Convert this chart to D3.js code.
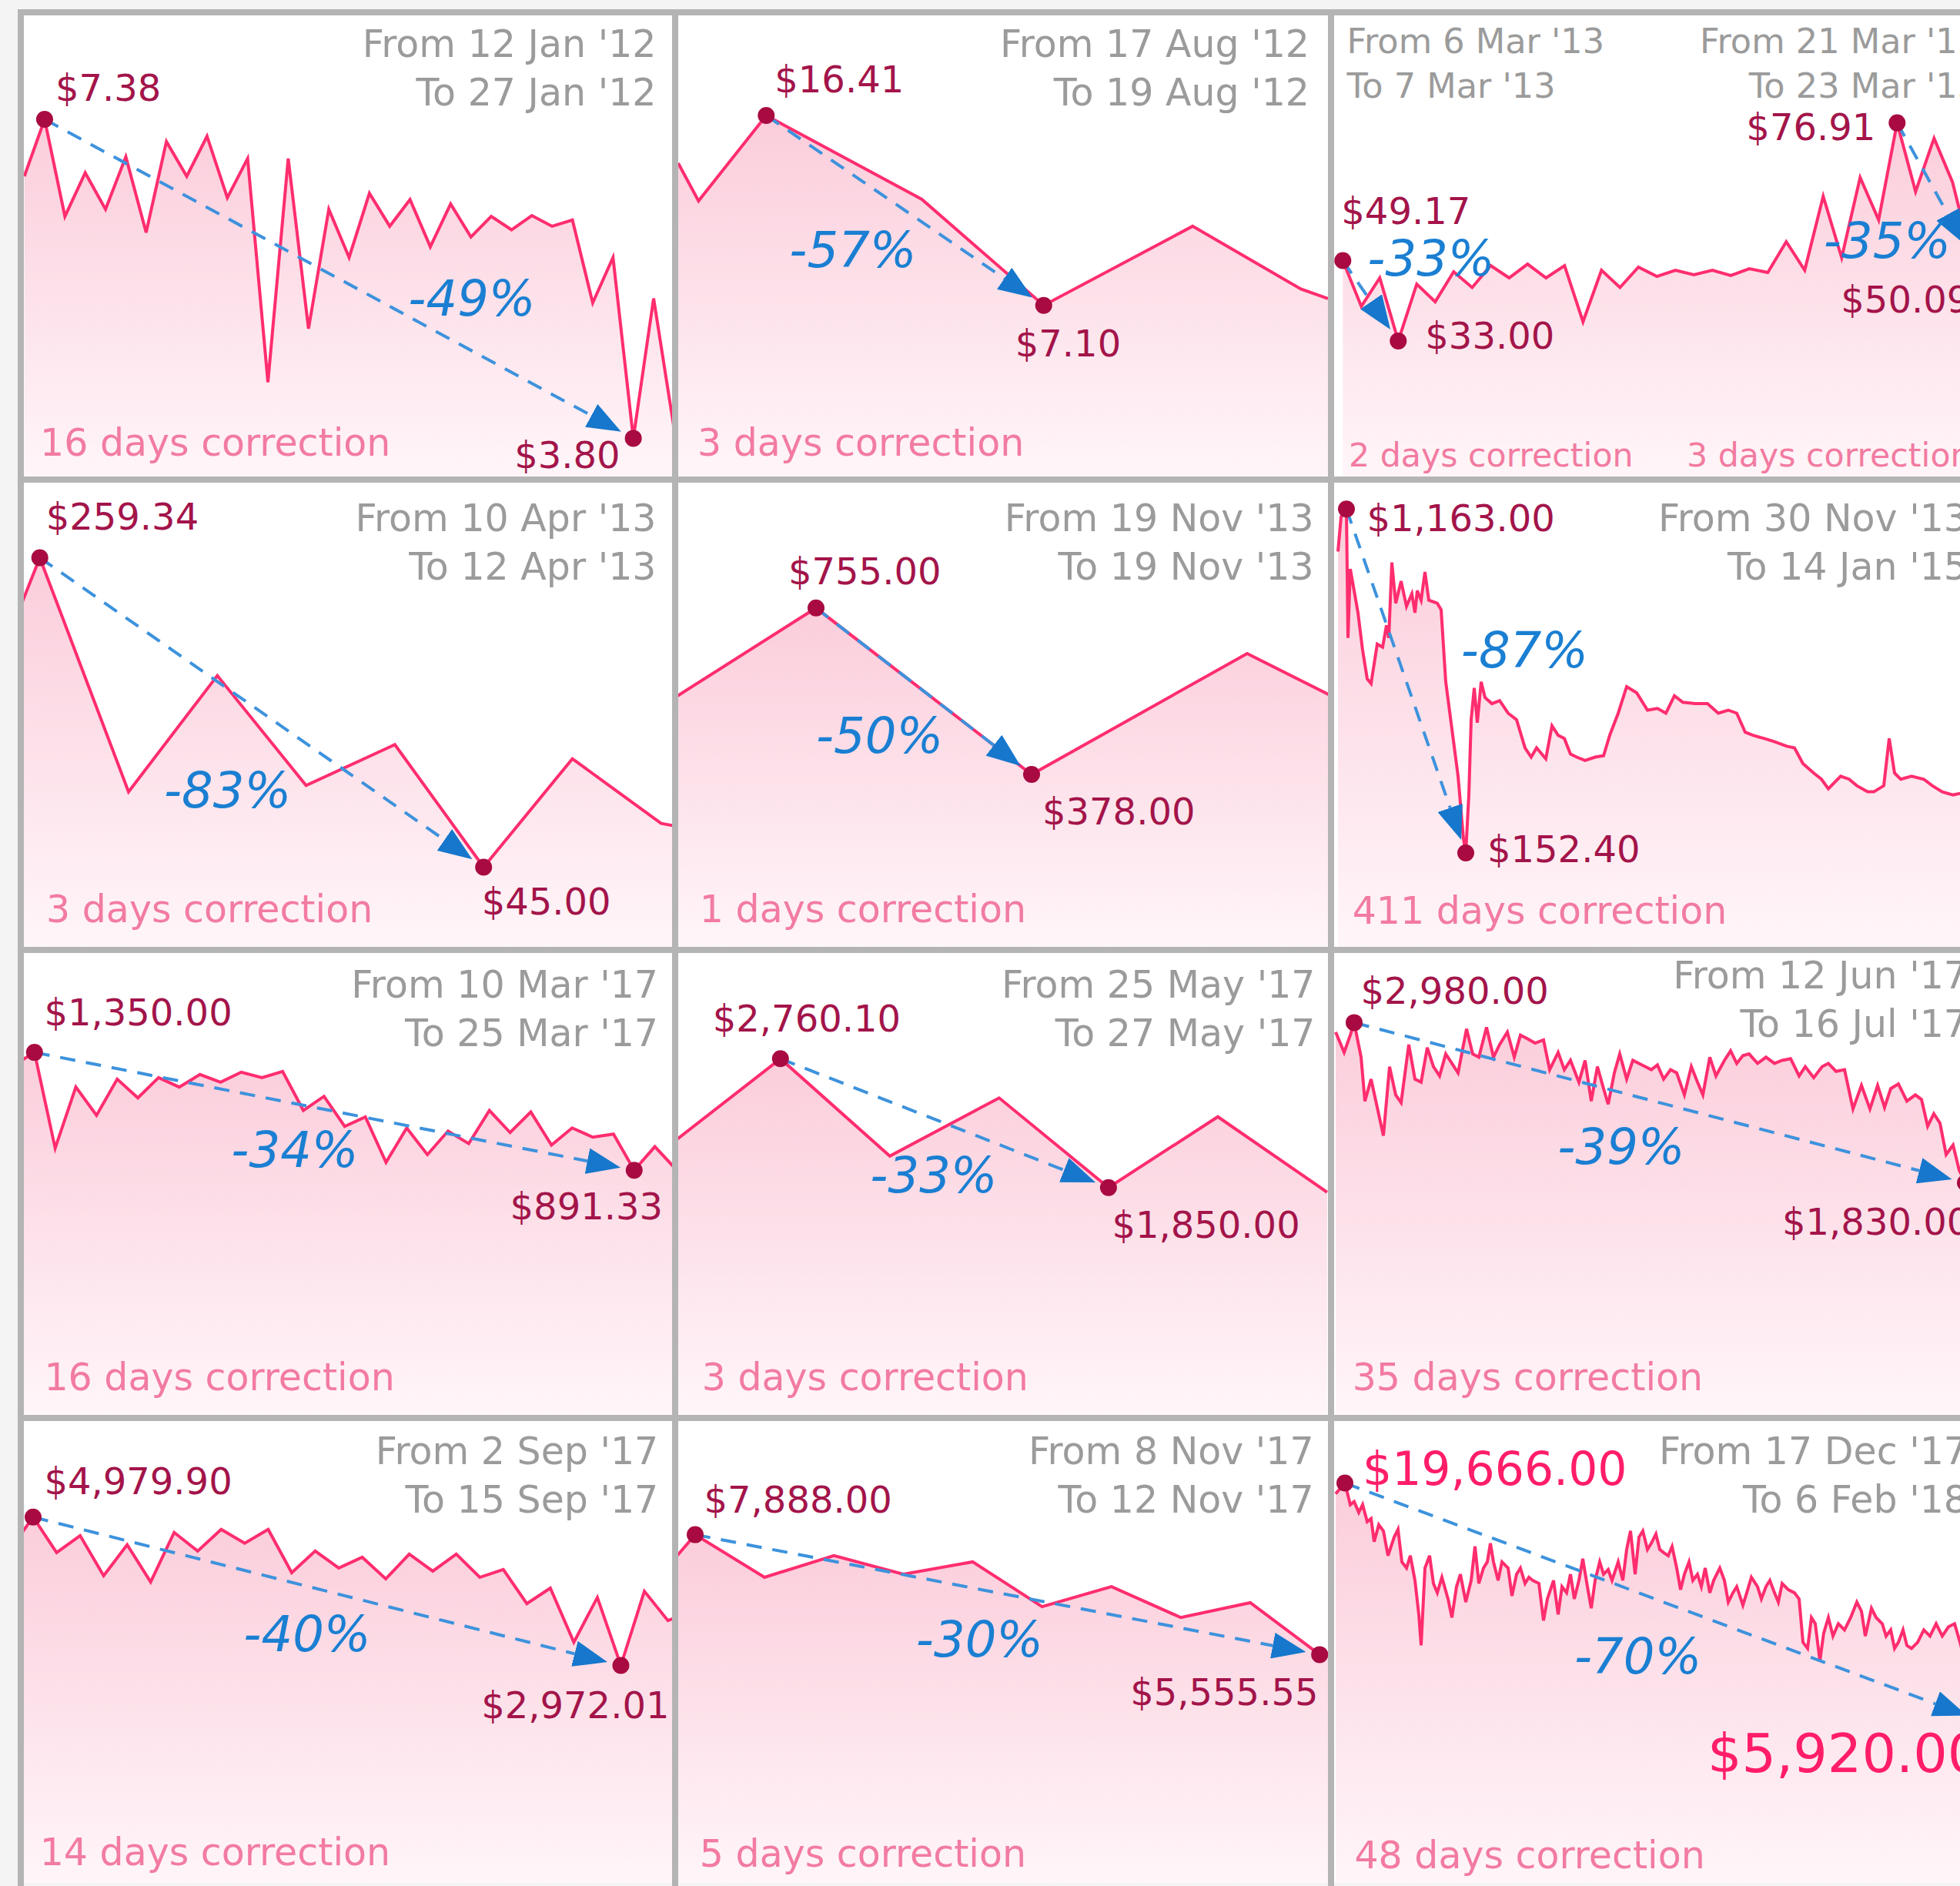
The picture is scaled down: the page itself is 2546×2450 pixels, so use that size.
<!DOCTYPE html>
<html>
<head>
<meta charset="utf-8">
<script src="https://cdn.jsdelivr.net/npm/d3@7"></script>
<style>
  body { margin: 0; background: #f4f4f4; }
  text { font-family: "DejaVu Sans", sans-serif; }
</style>
</head>
<body>
<div id="chart"></div>
<script>
// ---------------- data ----------------

// one series per panel, prices in USD
const jan12Prices = [6.74, 7.38, 6.29, 6.78, 6.37, 6.96, 6.11, 7.13, 6.74, 7.19, 6.50, 6.94, 4.43, 6.94, 5.03, 6.37,
    5.83, 6.55, 6.18, 6.48, 5.95, 6.43, 6.06, 6.29, 6.14, 6.30, 6.18, 6.25, 5.32, 5.83, 3.80, 5.37, 3.92];

const aug12Hours = [0, 3, 13, 36, 54, 76, 92, 96];
const aug12Prices = [14.07, 12.22, 16.41, 12.30, 7.10, 10.98, 7.90, 7.43];

const mar13Prices = [49.17, 39.96, 45.69, 33.00, 44.45, 40.89, 46.93, 43.76, 48.17, 45.69, 48.48, 45.69, 48.17, 36.86,
    47.24, 43.76, 47.86, 46.00, 47.24, 46.31, 47.24, 46.16, 47.55, 46.78, 52.98, 47.24, 62.12, 49.77, 65.91, 57.37,
    76.91, 63.05, 73.81, 64.96, 50.09, 58.0];

const apr13Prices = [103.9, 259.34, 97.2, 177.7, 101.6, 129.9, 45.00, 120.1, 75.3, 64.5];

const nov13Prices = [445, 755, 378, 651.8, 406.4];

const nov13to15Days = [5, 9, 16, 18, 21, 31, 37, 43, 48, 56, 63, 68, 71, 75, 80, 87, 94, 101, 105, 108, 113, 118, 123,
    134, 139, 145, 161, 168, 171, 175, 178, 182, 186, 191, 196, 205, 215, 226, 237, 248, 256, 263, 275, 283, 291, 299,
    307, 315, 326, 339, 350, 358, 369, 380, 393, 407, 420, 431, 442, 453, 469, 485, 499, 512, 523, 534, 544, 558, 571,
    588, 598, 609, 623, 633, 642, 658, 669, 679, 693, 701, 714, 721, 728, 736, 750, 766, 777, 790, 804, 813, 830, 850];
const nov13to15Prices = [1038, 1140, 1163, 784, 987, 858, 748, 664, 650, 766, 757, 821, 784, 1006, 886, 951, 877, 914,
    858, 923, 895, 978, 895, 886, 867, 655, 378, 194, 152.4, 323, 544, 637, 535, 655, 609, 591, 600, 563, 544, 461, 434,
    461, 429, 526, 498, 489, 443, 434, 424, 434, 438, 498, 563, 641, 623, 572, 577, 563, 614, 595, 591, 591, 563, 572,
    563, 507, 498, 489, 480, 466, 461, 415, 387, 369, 341, 378, 369, 350, 332, 332, 350, 489, 387, 369, 378, 369, 350,
    332, 323, 327, 340, 330];

const mar17Prices = [1300, 1350, 977, 1215, 1105, 1246, 1173, 1252, 1215, 1264, 1234, 1273, 1252, 1276, 1124, 1179,
    1062, 1099, 922, 1056, 952, 1044, 995, 1124, 1038, 1118, 989, 1056, 1020, 1032, 891.33, 983, 897];

const may17Prices = [2158, 2760.10, 2072, 2483, 1850, 2350, 1817];

const jun17Days = [2, 13, 21, 26, 35, 40, 48, 56, 64, 72, 80, 87, 97, 105, 113, 121, 129, 137, 145, 153, 161, 172, 180,
    188, 198, 207, 215, 225, 234, 242, 250, 261, 272, 280, 291, 299, 307, 318, 326, 334, 342, 350, 356, 364, 371, 380,
    388, 396, 404, 412, 420, 428, 437, 445, 455, 464, 472, 479, 488, 496, 507, 515, 523, 531, 539, 550, 561, 572, 582,
    593, 604, 612, 623, 634, 642, 652, 663, 674, 685, 696, 706, 715, 723, 733, 744, 755, 763, 771, 779, 787, 795, 804,
    812, 820, 831, 841];
const jun17Prices = [2912, 2766, 2890, 2980, 2732, 2416, 2574, 2371, 2168, 2664, 2461, 2405, 2822, 2574, 2552, 2800,
    2664, 2597, 2755, 2687, 2619, 2935, 2755, 2732, 2946, 2732, 2822, 2912, 2732, 2890, 2867, 2833, 2856, 2642, 2766,
    2642, 2709, 2552, 2709, 2416, 2664, 2506, 2394, 2619, 2755, 2574, 2709, 2687, 2664, 2642, 2676, 2574, 2642, 2619,
    2461, 2664, 2552, 2461, 2732, 2597, 2709, 2777, 2687, 2743, 2755, 2687, 2732, 2687, 2709, 2721, 2597, 2664, 2585,
    2664, 2687, 2630, 2642, 2360, 2529, 2360, 2529, 2371, 2506, 2540, 2416, 2461, 2428, 2236, 2326, 2258, 2033, 2101,
    1920, 1830, 1920, 2010];

const sep17Prices = [4534, 4979.90, 4499, 4729, 4185, 4604, 4102, 4771, 4520, 4813, 4625, 4813, 4227, 4520, 4290, 4436,
    4143, 4478, 4248, 4478, 4164, 4269, 3809, 4018, 3286, 3892, 2972.01, 3976, 3579, 3700];

const nov17Prices = [6316, 7888, 7059, 7480, 7119, 7359, 6487, 6878, 6277, 6565, 5555.55, 5800];

const dec17Days = [2, 14, 21, 26, 32, 37, 43, 48, 52, 58, 64, 70, 78, 83, 88, 94, 99, 105, 110, 113, 118, 124, 129, 134,
    140, 148, 153, 159, 164, 171, 178, 183, 188, 194, 199, 203, 207, 213, 218, 226, 231, 237, 242, 248, 253, 258, 266,
    272, 277, 285, 291, 296, 302, 307, 312, 318, 323, 329, 334, 339, 345, 350, 356, 361, 369, 375, 380, 385, 391, 396,
    401, 407, 412, 418, 423, 428, 434, 439, 445, 450, 455, 461, 466, 472, 477, 482, 488, 493, 501, 507, 512, 518, 523,
    531, 536, 542, 550, 555, 561, 566, 572, 577, 582, 590, 598, 604, 609, 615, 620, 625, 631, 636, 642, 648, 655, 663,
    671, 679, 685, 690, 698, 704, 712, 717, 723, 728, 733, 739, 744, 750, 758, 766, 774, 782, 790, 798, 806, 813, 826,
    839, 850];
const dec17Prices = [19040, 19666, 18413, 18592, 17966, 18413, 17429, 17608, 16266, 17250, 16892, 15460, 16534, 16982,
    15102, 14744, 15460, 14028, 12059, 10269, 14744, 15460, 13849, 13312, 14207, 12954, 11880, 13670, 14386, 12775,
    14028, 15997, 13849, 14744, 15102, 16176, 15102, 14028, 15102, 14744, 13133, 14386, 14744, 13849, 14207, 14028,
    13849, 11701, 12954, 14028, 12059, 13670, 13312, 14386, 12954, 14028, 15281, 13670, 12417, 14028, 15102, 14386,
    14655, 14028, 15102, 14028, 15818, 16892, 14386, 16534, 16892, 15818, 16176, 16713, 15818, 15639, 15460, 15997,
    14744, 13491, 14386, 15102, 14028, 14386, 13670, 14744, 13312, 14028, 14744, 14028, 12775, 13312, 13670, 12596,
    13312, 14207, 13670, 12954, 13670, 14028, 13312, 12775, 13849, 13491, 13312, 12954, 10449, 10091, 11880, 11522,
    9375, 10986, 11880, 10806, 11522, 11164, 11880, 12775, 12238, 10806, 12417, 11880, 11522, 10806, 11164, 10091,
    10449, 11164, 10269, 10091, 10449, 11164, 10806, 11522, 10806, 11343, 11522, 10449, 8200, 5920, 7000];

// the corrections (13 of them, panel 3 holds two)
const fromDates = ["12 Jan '12", "17 Aug '12", "6 Mar '13", "21 Mar '13", "10 Apr '13", "19 Nov '13", "30 Nov '13",
    "10 Mar '17", "25 May '17", "12 Jun '17", "2 Sep '17", "8 Nov '17", "17 Dec '17"];
const toDates = ["27 Jan '12", "19 Aug '12", "7 Mar '13", "23 Mar '13", "12 Apr '13", "19 Nov '13", "14 Jan '15",
    "25 Mar '17", "27 May '17", "16 Jul '17", "15 Sep '17", "12 Nov '17", "6 Feb '18"];
const correctionDays = [16, 3, 2, 3, 3, 1, 411, 16, 3, 35, 14, 5, 48];
const correctionPct = [-49, -57, -33, -35, -83, -50, -87, -34, -33, -39, -40, -30, -70];
const peakPrices = [7.38, 16.41, 49.17, 76.91, 259.34, 755, 1163, 1350, 2760.10, 2980, 4979.90, 7888, 19666];
const troughPrices = [3.80, 7.10, 33.00, 50.09, 45.00, 378, 152.40, 891.33, 1850, 1830, 2972.01, 5555.55, 5920];

const panelSeries = [jan12Prices, aug12Prices, mar13Prices, apr13Prices, nov13Prices, nov13to15Prices,
    mar17Prices, may17Prices, jun17Prices, sep17Prices, nov17Prices, dec17Prices];
const panelTimes = [null, aug12Hours, null, null, null, nov13to15Days, null, null, jun17Days, null, null, dec17Days];
const panelCorrections = [[0], [1], [2, 3], [4], [5], [6], [7], [8], [9], [10], [11], [12]];

// ---------------- layout ----------------
const W = 2546, H = 2450;
const colX = [27, 877, 1729];
const colW = [850, 852, 852];
const rowY = [16, 623, 1234, 1842];
const rowH = [607, 611, 608, 608];

// x range (panel-local px) for the first/last index or the time domain, y range for [low, high] price
const panelLayout = [
    {col: 0, row: 0, xr: [4.6, 848.4], yr: [553.4, 139]},
    {col: 1, row: 0, xd: [0, 96], xr: [4, 848], yr: [380.7, 134]},
    {col: 2, row: 0, xr: [15.3, 855.3], yr: [426.9, 143.6]},
    {col: 0, row: 1, xr: [-90.6, 947.1], yr: [503.5, 101.5]},
    {col: 1, row: 1, xr: [-97, 1023], yr: [383, 166.8]},
    {col: 2, row: 1, xd: [0, 850], xr: [4, 854], yr: [485, 38.2]},
    {col: 0, row: 2, xr: [-9.06, 850.5], yr: [286.2, 133.1]},
    {col: 1, row: 2, xr: [-5.25, 847], yr: [308.7, 141.3]},
    {col: 2, row: 2, xd: [0, 850], xr: [4, 854], yr: [302.5, 94.4]},
    {col: 0, row: 3, xr: [-14.54, 871.1], yr: [321.5, 128.7]},
    {col: 1, row: 3, xr: [-64.13, 927.3], yr: [307.4, 151.6]},
    {col: 2, row: 3, xd: [0, 850], xr: [4, 854], yr: [393, 84.5]}
];

// label placement per correction: peak/trough label offsets from the dot, pct and days positions, dates
const labelLayout = [
    {pk: [14, -24, "start"], tr: [-17, 39, "end"], pct: [586, 394], days: [25, 576], dates: [825.5, 57.5, 121, "end"]},
    {pk: [11, -30, "start"], tr: [-37, 66, "start"], pct: [231, 331], days: [29, 576], dates: [824, 57.5, 121, "end"]},
    {pk: [-2, -48, "start"], tr: [35, 10, "start"], pct: [130, 342], days: [23, 590], dates: [20.6, 53, 110.5, "start"], small: true},
    {pk: [-28, 22, "end"], tr: [-169, 73, "start"], pct: [722.5, 318.7], days: [462, 590], dates: [842, 53, 110.5, "end"], small: true},
    {pk: [8, -37, "start"], tr: [-2.5, 61, "start"], pct: [268.6, 426], days: [33, 575], dates: [825.5, 66.8, 130, "end"]},
    {pk: [-36, -31, "start"], tr: [14, 65, "start"], pct: [265.7, 354.6], days: [31.8, 575], dates: [829.7, 66.8, 130, "end"]},
    {pk: [26.5, 28.6, "start"], tr: [28, 12.4, "start"], pct: [251.5, 244], days: [27.7, 577], dates: [827, 66.8, 130, "end"]},
    {pk: [12.6, -34.7, "start"], tr: [37.3, 63.3, "end"], pct: [356, 282], days: [30.4, 572], dates: [828, 61.7, 125, "end"]},
    {pk: [-88, -35, "start"], tr: [4.5, 65, "start"], pct: [336, 314.8], days: [34.7, 572], dates: [831.5, 61.7, 125, "end"]},
    {pk: [8.5, -24.5, "start"], tr: [-238, 67.4, "start"], pct: [377, 278], days: [27.7, 572], dates: [827, 49.5, 112.7, "end"]},
    {pk: [14.4, -30, "start"], tr: [63, 68, "end"], pct: [372, 303.4], days: [24.7, 580.7], dates: [828.3, 60.4, 122.6, "end"]},
    {pk: [11.5, -29, "start"], tr: [-1.7, 66, "end"], pct: [395.5, 309.5], days: [31.8, 582.6], dates: [829.7, 60.4, 122.6, "end"]},
    {pk: [23, 2, "start"], tr: [-354, 67, "start"], pct: [398.7, 331.6], days: [30.4, 584.7], dates: [827, 60.4, 122.6, "end"], big: true}
];

const colors = {
    border: "#b4b4b4", line: "#ff2d6e", dot: "#a80a41", price: "#a3144a", bigPrice: "#ff1d68",
    date: "#9b9b9b", days: "#f27ba1", pct: "#1a7fd2", dash: "#3d92dc", head: "#1677cc"
};

const fmtPrice = d3.format("$,.2f");

// ---------------- drawing ----------------
const svg = d3.select("#chart").append("svg")
    .attr("width", W)
    .attr("height", H);

const defs = svg.append("defs");

let grad = defs.append("linearGradient")
    .attr("id", "areaFill")
    .attr("x1", 0).attr("y1", 0).attr("x2", 0).attr("y2", 1);
grad.append("stop").attr("offset", "0%").attr("stop-color", "#fbcddb");
grad.append("stop").attr("offset", "100%").attr("stop-color", "#fff6f9");

defs.append("marker")
    .attr("id", "arrowHead")
    .attr("viewBox", "0 -17 44 34")
    .attr("refX", 0).attr("refY", 0)
    .attr("markerWidth", 44).attr("markerHeight", 34)
    .attr("markerUnits", "userSpaceOnUse")
    .attr("orient", "auto")
    .append("path")
    .attr("d", "M0,-17L44,0L0,17Z")
    .attr("fill", colors.head);

const plots = svg.append("g").attr("class", "plots");
const gridLayer = svg.append("g").attr("class", "grid");
const notes = svg.append("g").attr("class", "notes");

let scales = [];

panelLayout.forEach((lay, i) => {
    let w = colW[lay.col], h = rowH[lay.row];
    let values = panelSeries[i];
    let times = panelTimes[i];
    let pts = values.map((v, j) => [times ? times[j] : j, v]);

    let x = d3.scaleLinear()
        .domain(times ? lay.xd : [0, values.length - 1])
        .range(lay.xr);

    let lo = d3.min(panelCorrections[i], c => troughPrices[c]);
    let hi = d3.max(panelCorrections[i], c => peakPrices[c]);
    let y = d3.scaleLinear()
        .domain([lo, hi])
        .range(lay.yr);

    scales.push({x, y, pts});

    defs.append("clipPath")
        .attr("id", "clip" + i)
        .append("rect")
        .attr("x", 4).attr("y", 4)
        .attr("width", w - 8).attr("height", h - 8);

    let g = plots.append("g")
        .attr("transform", `translate(${colX[lay.col]},${rowY[lay.row]})`)
        .attr("clip-path", `url(#clip${i})`);

    g.append("rect")
        .attr("width", w).attr("height", h)
        .attr("fill", "#ffffff");

    g.append("path")
        .datum(pts)
        .attr("fill", "url(#areaFill)")
        .attr("d", d3.area().x(d => x(d[0])).y0(h).y1(d => y(d[1])));

    g.append("path")
        .datum(pts)
        .attr("fill", "none")
        .attr("stroke", colors.line)
        .attr("stroke-width", 4)
        .attr("stroke-linejoin", "miter")
        .attr("d", d3.line().x(d => x(d[0])).y(d => y(d[1])));
});

// panel borders
colX.forEach(cx => {
    gridLayer.append("line")
        .attr("x1", cx).attr("x2", cx)
        .attr("y1", rowY[0] - 4).attr("y2", H)
        .attr("stroke", colors.border).attr("stroke-width", 8);
});
rowY.forEach(ry => {
    gridLayer.append("line")
        .attr("x1", colX[0] - 4).attr("x2", W)
        .attr("y1", ry).attr("y2", ry)
        .attr("stroke", colors.border).attr("stroke-width", 8);
});

// corrections: arrow, dots, labels
panelLayout.forEach((lay, i) => {
    let {x, y, pts} = scales[i];
    let g = notes.append("g")
        .attr("transform", `translate(${colX[lay.col]},${rowY[lay.row]})`);

    panelCorrections[i].forEach(c => {
        let L = labelLayout[c];
        let pk = pts.find(d => d[1] === peakPrices[c]);
        let tr = pts.find(d => d[1] === troughPrices[c]);
        let x1 = x(pk[0]), y1 = y(pk[1]);
        let x2 = x(tr[0]), y2 = y(tr[1]);

        // dashed arrow, the head stops short of the trough dot
        let len = Math.hypot(x2 - x1, y2 - y1);
        let ux = (x2 - x1) / len, uy = (y2 - y1) / len;
        let tipX = x2 - ux * 18, tipY = y2 - uy * 18;
        g.append("path")
            .attr("d", `M${x1},${y1}L${tipX - ux * 44},${tipY - uy * 44}`)
            .attr("fill", "none")
            .attr("stroke", colors.dash)
            .attr("stroke-width", 4)
            .attr("stroke-dasharray", "20 14")
            .attr("marker-end", "url(#arrowHead)");

        g.selectAll(null)
            .data([[x1, y1], [x2, y2]])
            .enter()
            .append("circle")
            .attr("cx", d => d[0]).attr("cy", d => d[1])
            .attr("r", 11)
            .attr("fill", colors.dot);

        let priceColor = L.big ? colors.bigPrice : colors.price;
        g.append("text")
            .attr("x", x1 + L.pk[0]).attr("y", y1 + L.pk[1])
            .attr("text-anchor", L.pk[2])
            .attr("font-size", L.big ? 60 : 48)
            .attr("fill", priceColor)
            .text(fmtPrice(peakPrices[c]));
        g.append("text")
            .attr("x", x2 + L.tr[0]).attr("y", y2 + L.tr[1])
            .attr("text-anchor", L.tr[2])
            .attr("font-size", L.big ? 70 : 48)
            .attr("fill", priceColor)
            .text(fmtPrice(troughPrices[c]));

        g.append("text")
            .attr("x", L.pct[0]).attr("y", L.pct[1])
            .attr("text-anchor", "middle")
            .attr("font-size", 64)
            .attr("font-style", "italic")
            .attr("fill", colors.pct)
            .text(correctionPct[c] + "%");

        g.append("text")
            .attr("x", L.days[0]).attr("y", L.days[1])
            .attr("font-size", L.small ? 42.7 : 49)
            .attr("fill", colors.days)
            .text(`${correctionDays[c]} days correction`);

        let dateSize = L.small ? 44.6 : 49;
        g.append("text")
            .attr("x", L.dates[0]).attr("y", L.dates[1])
            .attr("text-anchor", L.dates[3])
            .attr("font-size", dateSize)
            .attr("fill", colors.date)
            .text(`From ${fromDates[c]}`);
        g.append("text")
            .attr("x", L.dates[0]).attr("y", L.dates[2])
            .attr("text-anchor", L.dates[3])
            .attr("font-size", dateSize)
            .attr("fill", colors.date)
            .text(`To ${toDates[c]}`);
    });
});
</script>
</body>
</html>
